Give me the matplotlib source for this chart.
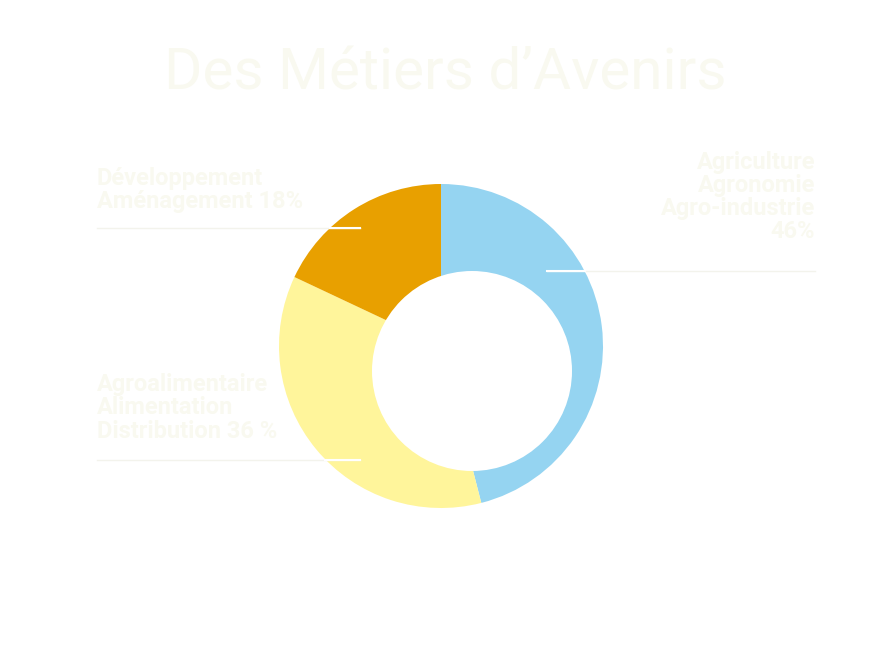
import matplotlib
matplotlib.use("Agg")
import matplotlib.pyplot as plt
from matplotlib.patches import Circle

labels = ["Agriculture\nAgronomie\nAgro-industrie\n46%", "Agroalimentaire\nAlimentation\nDistribution 36 %", "Développement\nAménagement 18%"]
values = [46, 36, 18]
colors = ["#95d4f1", "#fff59b", "#e8a000"]

H = 669
txt = "#f9f9f0"
plt.rcParams["font.family"] = ["Roboto", "DejaVu Sans"]

fig = plt.figure(figsize=(8.75, 6.69), dpi=100)
ax = fig.add_axes([0, 0, 1, 1])

ax.pie(values, colors=colors, startangle=90, counterclock=False,
       center=(441, H - 346), radius=162, wedgeprops=dict(linewidth=0), frame=True)
# the hole sits off-centre in the original
ax.add_patch(Circle((472, H - 371), 100, facecolor="white", edgecolor="none", zorder=5))
ax.set_xlim(0, 875); ax.set_ylim(0, H); ax.set_aspect("equal"); ax.axis("off")

ax.text(445, H - 74, "Des Métiers d’Avenirs", ha="center", va="center", fontsize=42, color=txt)

# leader lines
for x0, x1, y, wx0, wx1 in [(97, 360, 228, 330, 360), (547, 815, 271, 547, 585), (97, 360, 460, 325, 360)]:
    ax.plot([x0, x1], [H - y, H - y], color="#f3f3ec", lw=1, zorder=6)
    ax.plot([wx0, wx1], [H - y, H - y], color="white", lw=1.5, zorder=7)

kw = dict(va="center", fontsize=17, fontweight="bold", color=txt, linespacing=1.0, zorder=8)
ax.text(97, H - 190, labels[2], ha="left", **kw)
ax.text(815, H - 197, labels[0], ha="right", **kw)
ax.text(97, H - 408, labels[1], ha="left", **kw)

fig.savefig("out.png", dpi=100, facecolor="white")
